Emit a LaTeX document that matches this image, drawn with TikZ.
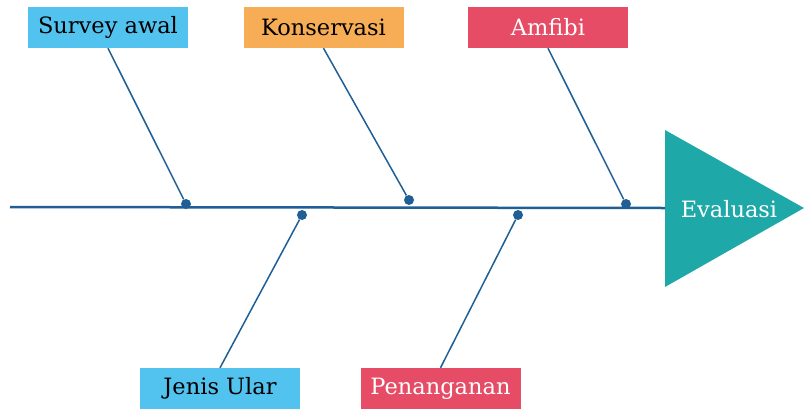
\documentclass[tikz,border=0pt]{standalone}
\usepackage{fontspec}
\setmainfont{DejaVu Serif}
\usepackage{tikz}
\usetikzlibrary{calc}

\definecolor{boneblue}{HTML}{1F5F96}
\definecolor{skyblue}{HTML}{52C3EF}
\definecolor{orangebox}{HTML}{F6AD55}
\definecolor{redbox}{HTML}{E64C66}
\definecolor{headteal}{HTML}{1FA8A8}

\tikzset{
  cause/.style={minimum width=160pt,minimum height=41pt,inner sep=0pt,font=\fontsize{22.5}{26}\selectfont},
  bone/.style={boneblue,line width=1.5pt},
  joint/.style={circle,fill=boneblue,inner sep=0pt,minimum size=10pt}
}

\begin{document}
\begin{tikzpicture}[x=1pt,y=-1pt]
            \useasboundingbox (0,0) rectangle (804,408);
            % kepala ikan
            \fill [headteal] (665,130) -- (804,208) -- (665,287) -- cycle;
            \node (eval) at (729,209) {\color{white}\fontsize{22.5}{26}\selectfont Evaluasi};
            \coordinate (tail) at (10,207);
            \coordinate (head) at (665,208);
            \draw [bone,line width=2.5pt] (tail) -- (head);
            % kotak sebab
            \node [cause,fill=skyblue] (survey) at (108,27.5) {Survey awal};
            \node [cause,fill=orangebox] (konservasi) at (323.5,27.5) {Konservasi};
            \node [cause,fill=redbox,text=white] (amfibi) at (548,27.5) {Amfibi};
            \node [cause,fill=skyblue] (jenis) at (220,388.5) {Jenis Ular};
            \node [cause,fill=redbox,text=white] (penanganan) at (440.5,388.5) {Penanganan};
            % titik pada tulang
            \node [joint] (d1) at (186,204) {};
            \node [joint] (d2) at (409,200) {};
            \node [joint] (d3) at (626,204) {};
            \node [joint] (d4) at (302,215) {};
            \node [joint] (d5) at (518,215) {};
            \draw [bone] (survey.south) -- (d1);
            \draw [bone] (konservasi.south) -- (d2);
            \draw [bone] (amfibi.south) -- (d3);
            \draw [bone] (jenis.north) -- (d4);
            \draw [bone] (penanganan.north) -- (d5);
        \end{tikzpicture}
\end{document}
